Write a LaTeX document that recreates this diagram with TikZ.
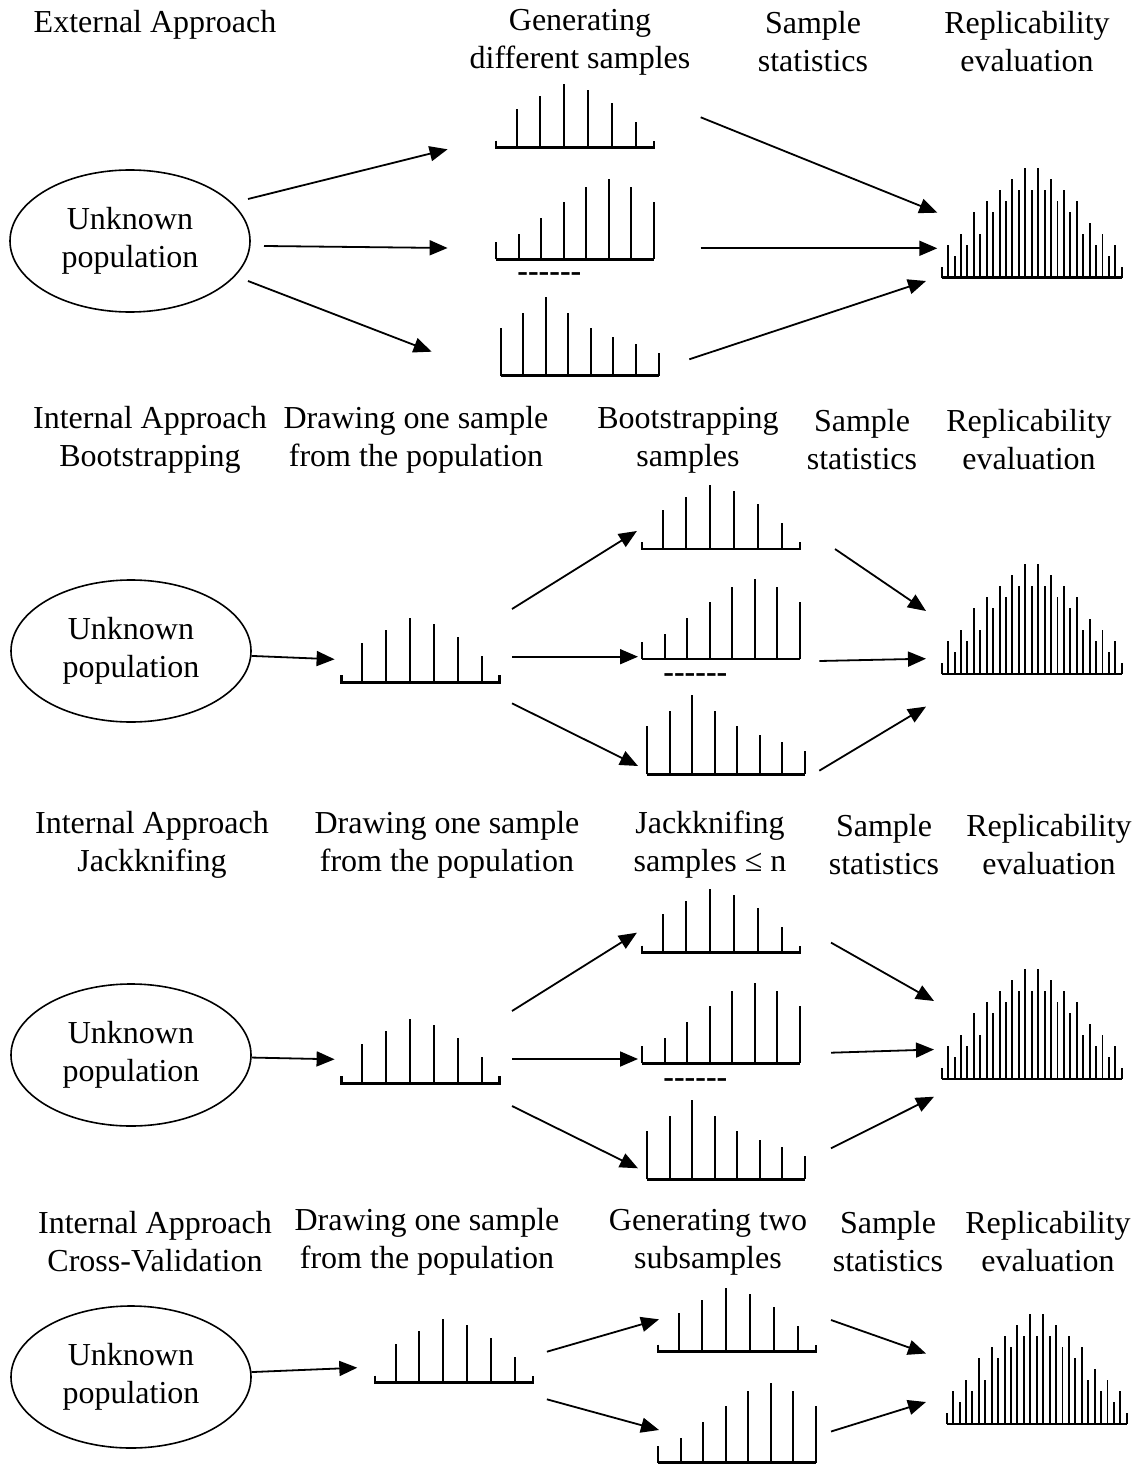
\documentclass[tikz,border=0pt]{standalone}
\usepackage{fontspec}
\setmainfont{Liberation Serif}
\usepackage{tikz}
\usetikzlibrary{shapes.geometric, arrows.meta, positioning, calc}

\newcommand{\gapdash}{-\kern0pt-\kern0pt-\kern0pt-\kern0pt-\kern0pt-}

\tikzset{
  hbar/.style={line width=1pt},
  thinbar/.style={line width=0.95pt},
  base/.style={line width=1.3pt},
  symhist/.pic={
    \draw[base] (0,-7) -- (0,0) -- (158,0) -- (158,-7);
    \foreach \x/\h in {20.7/39, 44.3/52, 68.3/64, 92/58, 116/45, 140/26}
      \draw[hbar] (\x,0) -- (\x,-\h);
  },
  risehist/.pic={
    \draw[base] (0,0) -- (158,0);
    \foreach \h [count=\i from 0] in {17,25,41,57,72,80,72,57}
      \draw[hbar] (\i*22.57,0) -- (\i*22.57,-\h);
  },
  fallhist/.pic={
    \draw[base] (0,0) -- (158,0);
    \foreach \h [count=\i from 0] in {48,63,79,63,48,39,32,23}
      \draw[hbar] (\i*22.57,0) -- (\i*22.57,-\h);
  },
  bighist/.pic={
    \draw[base] (0,0) -- (180,0);
    \foreach \h [count=\i from 0] in {1,3,2,4,3,6,4,7,6,8,7,9,8,10,8,10,8,9,7,8,6,7,4,5,3,4,2,3,1}
      \draw[thinbar] (\i*6.43,0) -- (\i*6.43,-\h*11);
  }
}

\begin{document}
\begin{tikzpicture}[x=0.5pt, y=-0.5pt, font=\fontsize{16}{19}\selectfont,
  popu/.style={draw, ellipse, line width=0.8pt, minimum width=120pt, minimum height=71pt, inner sep=0pt, align=center},
  ttl/.style={align=center, inner sep=0pt},
  gap/.style={inner sep=0pt, anchor=base west, font=\fontsize{16}{19}\selectfont\bfseries},
  arr/.style={-{Triangle[length=9pt,width=7.5pt]}, line width=0.9pt}]
\useasboundingbox (0,0) rectangle (1143,1465);

% External approach
\node[ttl] (h1a) at (155,25) {External Approach};
\node[ttl] (h1b) at (580,42) {Generating\\different samples};
\node[ttl] (h1c) at (813,42) {Sample\\statistics};
\node[ttl] (h1d) at (1027,42) {Replicability\\evaluation};
\node[popu] (pop1) at (130,241) {Unknown\\population};
\pic at (496,147.7) {symhist};
\pic at (496,259.3) {risehist};
\node[gap] (gap1) at (517,282) {\gapdash};
\pic at (500.5,375.7) {fallhist};
\pic at (941.7,277.7) {bighist};
\coordinate (o1a) at (248,199);   \coordinate (i1a) at (447.6,149.3);
\coordinate (o1b) at (264,246);   \coordinate (i1b) at (447.6,248);
\coordinate (o1c) at (248,281);   \coordinate (i1c) at (431.6,351.7);
\coordinate (s1a) at (700.7,117.3); \coordinate (r1a) at (937.3,212.7);
\coordinate (s1b) at (700.7,248.3); \coordinate (r1b) at (937.3,248.3);
\coordinate (s1c) at (689.3,359.3); \coordinate (r1c) at (926,281);
\draw[arr] (o1a) -- (i1a);
\draw[arr] (o1b) -- (i1b);
\draw[arr] (o1c) -- (i1c);
\draw[arr] (s1a) -- (r1a);
\draw[arr] (s1b) -- (r1b);
\draw[arr] (s1c) -- (r1c);

% Bootstrapping
\node[ttl] (h2a) at (150,440) {Internal Approach\\Bootstrapping};
\node[ttl] (h2b) at (416,440) {Drawing one sample\\from the population};
\node[ttl] (h2c) at (688,440) {Bootstrapping\\samples};
\node[ttl] (h2d) at (862,440) {Sample\\statistics};
\node[ttl] (h2e) at (1029,440) {Replicability\\evaluation};
\node[popu] (pop2) at (131,651) {Unknown\\population};
\coordinate (in2) at (334.6,659.3);
\pic at (341.5,682.3) {symhist};
\pic at (642,549) {symhist};
\pic at (642,659) {risehist};
\node[gap] (gap2) at (663,682.7) {\gapdash};
\pic at (647,774.3) {fallhist};
\pic at (941.7,674) {bighist};
\coordinate (o2a) at (512,609);     \coordinate (i2a) at (636.9,531);
\coordinate (o2b) at (512,656.7);   \coordinate (i2b) at (638,656.7);
\coordinate (o2c) at (512,703.3);   \coordinate (i2c) at (638,766);
\coordinate (s2a) at (835,549);     \coordinate (r2a) at (926,611);
\coordinate (s2b) at (819.3,661);   \coordinate (r2b) at (926,658.7);
\coordinate (s2c) at (819.3,770.7); \coordinate (r2c) at (926,706.6);
\draw[arr] (pop2) -- (in2);
\draw[arr] (o2a) -- (i2a);
\draw[arr] (o2b) -- (i2b);
\draw[arr] (o2c) -- (i2c);
\draw[arr] (s2a) -- (r2a);
\draw[arr] (s2b) -- (r2b);
\draw[arr] (s2c) -- (r2c);

% Jackknifing
\node[ttl] (h3a) at (152,844.5) {Internal Approach\\Jackknifing};
\node[ttl] (h3b) at (447,844.5) {Drawing one sample\\from the population};
\node[ttl] (h3c) at (710,844.5) {Jackknifing\\samples ≤ n};
\node[ttl] (h3d) at (884,844.5) {Sample\\statistics};
\node[ttl] (h3e) at (1049,844.5) {Replicability\\evaluation};
\node[popu] (pop3) at (131,1055) {Unknown\\population};
\coordinate (in3) at (334.6,1059.3);
\pic at (341.5,1083.3) {symhist};
\pic at (642,952.7) {symhist};
\pic at (642,1063.3) {risehist};
\node[gap] (gap3) at (663,1087) {\gapdash};
\pic at (647,1179.3) {fallhist};
\pic at (941.7,1079) {bighist};
\coordinate (o3a) at (512,1011);  \coordinate (i3a) at (636.9,932.7);
\coordinate (o3b) at (512,1059);  \coordinate (i3b) at (638,1059);
\coordinate (o3c) at (512,1106);  \coordinate (i3c) at (638,1168.3);
\coordinate (s3a) at (831,942.6); \coordinate (r3a) at (934,1001);
\coordinate (s3b) at (831,1052.7);\coordinate (r3b) at (934,1049.5);
\coordinate (s3c) at (831,1148.3);\coordinate (r3c) at (934,1096.7);
\draw[arr] (pop3) -- (in3);
\draw[arr] (o3a) -- (i3a);
\draw[arr] (o3b) -- (i3b);
\draw[arr] (o3c) -- (i3c);
\draw[arr] (s3a) -- (r3a);
\draw[arr] (s3b) -- (r3b);
\draw[arr] (s3c) -- (r3c);

% Cross-validation
\node[ttl] (h4a) at (155,1242) {Internal Approach\\Cross-Validation};
\node[ttl] (h4b) at (427,1242) {Drawing one sample\\from the population};
\node[ttl] (h4c) at (708,1242) {Generating two\\subsamples};
\node[ttl] (h4d) at (888,1242) {Sample\\statistics};
\node[ttl] (h4e) at (1048,1242) {Replicability\\evaluation};
\node[popu] (pop4) at (131,1377) {Unknown\\population};
\coordinate (in4) at (357.3,1367.7);
\pic at (374.8,1382.7) {symhist};
\pic at (658,1351.7) {symhist};
\pic at (658,1462.7) {risehist};
\pic at (946.7,1424) {bighist};
\coordinate (o4a) at (546.9,1351.7); \coordinate (i4a) at (659,1319.3);
\coordinate (o4b) at (546.9,1399.3); \coordinate (i4b) at (659,1430);
\coordinate (s4a) at (831,1320);     \coordinate (r4a) at (926,1353.5);
\coordinate (s4b) at (831,1431.5);   \coordinate (r4b) at (926,1402);
\draw[arr] (pop4) -- (in4);
\draw[arr] (o4a) -- (i4a);
\draw[arr] (o4b) -- (i4b);
\draw[arr] (s4a) -- (r4a);
\draw[arr] (s4b) -- (r4b);
\end{tikzpicture}
\end{document}
